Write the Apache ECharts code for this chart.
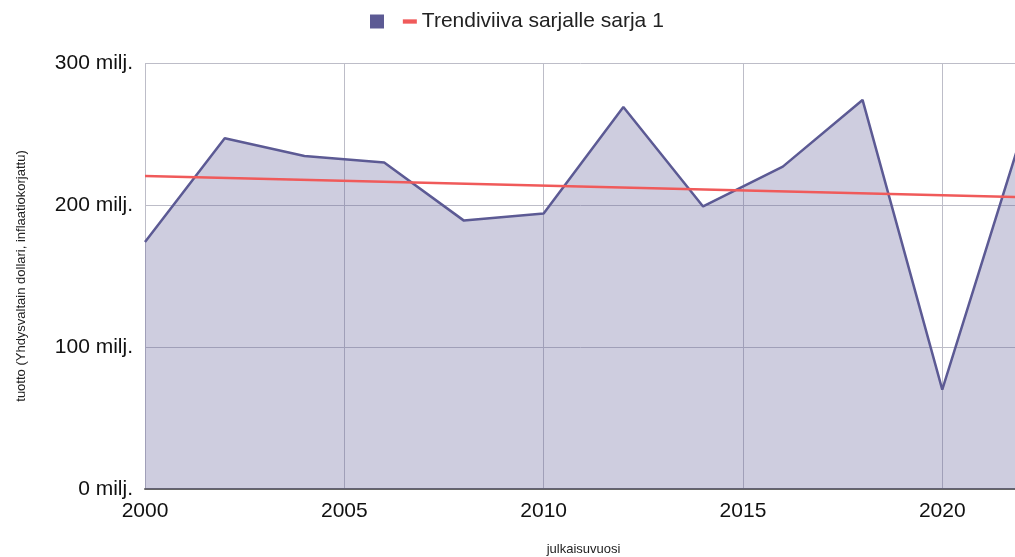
<!DOCTYPE html>
<html>
<head>
<meta charset="utf-8">
<script src="https://cdn.jsdelivr.net/npm/echarts@6/dist/echarts.min.js"></script>
<style>
  html, body { margin: 0; padding: 0; background: #fff; }
  #chart { width: 1015px; height: 557px; }
</style>
</head>
<body>
<div id="chart"></div>
<script>
// julkaisuvuosi / tuotto (milj. USD)
var years = [2000, 2002, 2004, 2006, 2008, 2010, 2012, 2014, 2016, 2018, 2020, 2022];
var revenue = [174, 247, 234.5, 230, 189, 194, 269, 199, 227, 274, 70, 250];
var trendYears = [2000, 2022];
var trendValues = [220.5, 205.5];
var seriesName = ' ';
var trendName = 'Trendiviiva sarjalle sarja 1';

var chart = echarts.init(document.getElementById('chart'));

var pairs = function (xs, ys) {
    var res = [];
    for (var i = 0; i < xs.length; i++) {
        res.push([xs[i], ys[i]]);
    }
    return res;
};

var font = 'Liberation Sans, Arial, sans-serif';

var option = {
    animation: false,
    textStyle: { fontFamily: font },
    legend: {
        top: 6,
        left: 365,
        itemGap: 8,
        itemWidth: 14,
        itemHeight: 14,
        textStyle: { fontSize: 21, color: '#222', fontFamily: font },
        data: [
            { name: seriesName, icon: 'rect', itemStyle: { color: '#5c5a94' } },
            { name: trendName, icon: 'path://M0,0L13,0L13,4L0,4Z', itemStyle: { color: '#f05a5a' } }
        ]
    },
    grid: {
        left: 145,
        right: -7,
        top: 63,
        bottom: 68,
        outerBoundsMode: 'none',
        containLabel: false
    },
    xAxis: {
        type: 'value',
        min: 2000,
        max: 2022,
        interval: 5,
        name: 'julkaisuvuosi',
        nameLocation: 'middle',
        nameGap: 54,
        nameTextStyle: { fontSize: 13, color: '#222' },
        axisLine: { show: true, lineStyle: { color: '#666', width: 2 } },
        axisTick: { show: false },
        axisLabel: {
            fontSize: 21,
            color: '#111',
            margin: 12,
            showMaxLabel: false,
            formatter: function (v) { return String(v); }
        },
        splitLine: { show: true, lineStyle: { color: '#bdbdc8', width: 1 } }
    },
    yAxis: {
        type: 'value',
        min: 0,
        max: 300,
        interval: 100,
        name: 'tuotto (Yhdysvaltain dollari, inflaatiokorjattu)',
        nameLocation: 'middle',
        nameGap: 117,
        nameRotate: 90,
        nameTextStyle: { fontSize: 13, color: '#222' },
        axisLine: { show: false },
        axisTick: { show: false },
        axisLabel: {
            fontSize: 21,
            color: '#111',
            margin: 12,
            formatter: function (v) { return v + ' milj.'; }
        },
        splitLine: { show: true, lineStyle: { color: '#bdbdc8', width: 1 } }
    },
    series: [
        {
            name: seriesName,
            type: 'line',
            data: pairs(years, revenue),
            showSymbol: false,
            symbol: 'none',
            lineStyle: { color: '#5c5a94', width: 2.5 },
            itemStyle: { color: '#5c5a94' },
            areaStyle: { color: 'rgba(92,90,148,0.3)', opacity: 1 },
            z: 2
        },
        {
            name: trendName,
            type: 'line',
            data: pairs(trendYears, trendValues),
            symbol: 'none',
            lineStyle: { color: '#f05a5a', width: 2.5 },
            itemStyle: { color: '#f05a5a' },
            z: 3
        }
    ]
};

chart.setOption(option);
window.addEventListener('resize', function () {
    chart.resize();
});
</script>
</body>
</html>
